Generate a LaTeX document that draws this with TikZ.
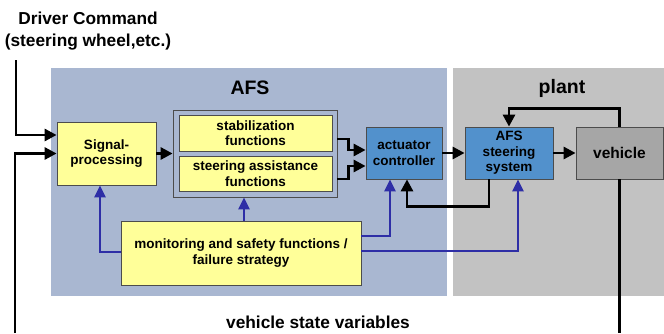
\documentclass[tikz,border=0pt]{standalone}
\usepackage{fontspec}
\setmainfont{Liberation Sans}
\usetikzlibrary{arrows.meta}
\definecolor{afsbg}{RGB}{169,183,209}
\definecolor{plantbg}{RGB}{194,194,194}
\definecolor{boxyellow}{RGB}{255,255,153}
\definecolor{boxblue}{RGB}{82,145,204}
\definecolor{vehgray}{RGB}{166,166,166}
\definecolor{monblue}{RGB}{46,46,166}

\begin{document}
\begin{tikzpicture}[x=1pt, y=-1pt,
    box/.style={draw=black!70, line width=0.8pt, inner sep=0pt, align=center,
      font=\fontsize{13.5}{15.5}\selectfont\bfseries},
    ybox/.style={box, fill=boxyellow},
    bbox/.style={box, fill=boxblue},
    sig/.style={line width=2.8pt, -{Triangle[length=12pt,width=12pt]}},
    mon/.style={sig, draw=monblue, -{Triangle[length=12pt,width=11pt]}},
    title/.style={font=\fontsize{19.5}{21}\selectfont\bfseries},
    label/.style={font=\fontsize{17.3}{22}\selectfont\bfseries, align=center}]
  \useasboundingbox (0,0) rectangle (664,333);
  \fill[afsbg] (51,68) rectangle (447,296);
  \fill[plantbg] (453,68) rectangle (664,296);

  \node[title] (afs) at (250,88) {AFS};
  \node[title] (plant) at (562,88) {plant};
  \node[label] (drvtxt) at (88,31) {Driver Command\\(steering wheel,etc.)};
  \node[label] (vsv) at (318,322) {vehicle state variables};

  \node[box, fill=afsbg, minimum width=164, minimum height=87] (grp) at (255,153.5) {};
  \node[ybox, minimum width=99, minimum height=63] (sigp) at (106.5,153.5) {Signal-\\processing};
  \node[ybox, minimum width=153, minimum height=36] (stab) at (255.5,133) {stabilization\\functions};
  \node[ybox, minimum width=153, minimum height=35] (assist) at (255.5,173.5) {steering assistance\\functions};
  \node[bbox, minimum width=76, minimum height=52] (act) at (404,153) {actuator\\controller};
  \node[bbox, minimum width=88, minimum height=52] (afsst) at (509,153) {AFS\\steering\\system};
  \node[box, fill=vehgray, minimum width=87, minimum height=52,
    font=\fontsize{15.5}{17}\selectfont\bfseries] (veh) at (619.5,153) {vehicle};
  \node[ybox, minimum width=240, minimum height=64] (mon) at (241,253) {monitoring and safety functions /\\failure strategy};

  \coordinate (drv) at (16,60);
  \coordinate (fbL) at (15,333);
  \coordinate (fbR) at (619.5,333);

  \draw[sig] (drv) |- ([yshift=18.5pt]sigp.west);
  \draw[sig] (fbL) |- (sigp.west);
  \draw[line width=2.8pt] (veh.south) -- (fbR);
  \draw[sig] (sigp.east) -- (grp.west);
  \draw[sig] ([yshift=14.5pt]grp.east) -- ++(11,0) |- ([yshift=3pt]act.west);
  \draw[sig] ([yshift=-25.5pt]grp.east) -- ++(11,0) |- ([yshift=-13pt]act.west);
  \draw[sig] (act.east) -- (afsst.west);
  \draw[sig] (afsst.east) -- (veh.west);
  \draw[sig] (veh.north) -- ++(0,-18) -| (afsst.north);
  \draw[sig] ([xshift=-20pt]afsst.south) -- ++(0,27) -| ([xshift=3pt]act.south);

  \draw[mon] ([xshift=3pt]mon.north) -- ([xshift=3pt]mon.north |- grp.south);
  \draw[mon] ([yshift=1pt]mon.west) -| ([xshift=-6.5pt]sigp.south);
  \draw[mon] ([yshift=17pt]mon.east) -| ([xshift=-14pt]act.south);
  \draw[mon] ([yshift=2pt]mon.east) -| ([xshift=9pt]afsst.south);
\end{tikzpicture}
\end{document}
